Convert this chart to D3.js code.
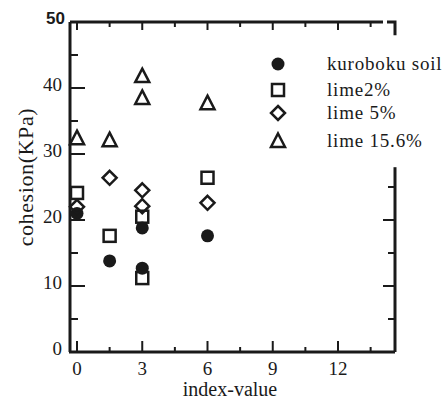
<!DOCTYPE html>
<html lang="en">
<head>
  <meta charset="UTF-8">
  <title>Cohesion vs index-value</title>
  <script src="https://d3js.org/d3.v7.min.js"></script>
  <style>
    body { margin: 0; background: #fff; }
    svg { font-family: "Liberation Serif", "DejaVu Serif", serif; }
    .tick-label { font-size: 19px; fill: #1a1a1a; }
    .axis-title { font-size: 20px; fill: #1a1a1a; }
    .legend text { font-size: 19px; fill: #1a1a1a; letter-spacing: 0.8px; }
  </style>
</head>
<body>
  <svg id="chart"></svg>
  <script>
    // Data
    const xValues = [0, 1.5, 3, 3, 6];
    const kuroboku = [21.0, 13.8, 18.8, 12.7, 17.6];
    const lime2 = [24.1, 17.6, 20.5, 11.2, 26.4];
    const lime5 = [22.0, 26.4, 24.5, 22.1, 22.6];
    const lime156 = [32.4, 32.1, 41.8, 38.5, 37.7];

    const seriesNames = ["kuroboku soil", "lime2%", "lime 5%", "lime 15.6%"];
    const seriesValues = [kuroboku, lime2, lime5, lime156];
    const seriesShapes = ["circle", "square", "diamond", "triangle"];

    const xTicks = [0, 3, 6, 9, 12];
    const yTicks = [0, 10, 20, 30, 40, 50];

    const W = 445, H = 400;
    const svg = d3.select("#chart").attr("width", W).attr("height", H);

    const x = d3.scaleLinear().domain([0, 12]).range([77, 338]);
    const y = d3.scaleLinear().domain([0, 50]).range([352, 22]);

    const plotL = 70, plotR = 395, plotT = y(50), plotB = y(0);
    const ink = "#1a1a1a";

    // Frame
    const frame = svg.append("g").attr("stroke", ink).attr("stroke-width", 3).attr("fill", "none");
    frame.append("line").attr("x1", plotL).attr("x2", plotL).attr("y1", plotT).attr("y2", plotB);
    frame.append("line").attr("x1", plotL - 1).attr("x2", plotR).attr("y1", plotB).attr("y2", plotB);
    frame.append("line").attr("x1", plotL).attr("x2", 383).attr("y1", plotT).attr("y2", plotT);
    frame.append("path").attr("d", `M387,${plotT} H${plotR} V${y(48)}`);
    frame.append("line").attr("x1", plotR).attr("x2", plotR).attr("y1", y(28)).attr("y2", plotB);

    // Ticks
    const ticks = svg.append("g").attr("stroke", ink);
    d3.range(0, 14, 1.5).forEach(v => {
      const major = v % 3 === 0;
      const len = major ? 11 : 5;
      ticks.append("line").attr("x1", x(v)).attr("x2", x(v))
        .attr("y1", plotB).attr("y2", plotB - len).attr("stroke-width", 2);
      ticks.append("line").attr("x1", x(v)).attr("x2", x(v))
        .attr("y1", plotT).attr("y2", plotT + (major ? 8 : 5)).attr("stroke-width", 2);
    });
    d3.range(5, 50, 5).forEach(v => {
      const major = v % 10 === 0;
      ticks.append("line").attr("x1", plotL).attr("x2", plotL + (major ? 15 : 8))
        .attr("y1", y(v)).attr("y2", y(v)).attr("stroke-width", 2);
      if (v <= 25) {
        ticks.append("line").attr("x1", plotR).attr("x2", plotR - (major ? 12 : 7))
          .attr("y1", y(v)).attr("y2", y(v)).attr("stroke-width", 2);
      }
    });

    // Tick labels
    svg.append("g").selectAll("text").data(xTicks).join("text")
      .attr("class", "tick-label")
      .attr("x", d => x(d)).attr("y", 375)
      .attr("text-anchor", "middle")
      .text(d => d);
    svg.append("g").selectAll("text").data(yTicks.filter(d => d < 50)).join("text")
      .attr("class", "tick-label")
      .attr("x", 62).attr("y", d => y(d) + 3)
      .attr("text-anchor", "end")
      .text(d => d);
    // top label is set in a heavier sans face in the original
    svg.append("text")
      .attr("x", 65).attr("y", y(50) + 2)
      .attr("text-anchor", "end")
      .style("font-family", "'Liberation Sans', Arial, sans-serif")
      .style("font-size", "17px").style("font-weight", "bold").attr("fill", ink)
      .text(yTicks[yTicks.length - 1]);

    // Axis titles
    svg.append("text").attr("class", "axis-title")
      .attr("x", 230).attr("y", 396).attr("text-anchor", "middle")
      .text("index-value");
    svg.append("text").attr("class", "axis-title")
      .attr("transform", `translate(33,${y(26.5)}) rotate(-90)`)
      .attr("text-anchor", "middle")
      .style("font-size", "22px").style("letter-spacing", "0.6px")
      .text("cohesion(KPa)");

    // Markers
    function drawShape(g, shape, cx, cy) {
      if (shape === "circle") {
        g.append("circle").attr("cx", cx).attr("cy", cy).attr("r", 6.5)
          .attr("fill", ink);
      } else if (shape === "square") {
        g.append("rect").attr("x", cx - 6).attr("y", cy - 6)
          .attr("width", 12).attr("height", 12)
          .attr("fill", "none").attr("stroke", ink).attr("stroke-width", 2.5);
      } else if (shape === "diamond") {
        g.append("path").attr("d", `M${cx},${cy - 7}L${cx + 7},${cy}L${cx},${cy + 7}L${cx - 7},${cy}Z`)
          .attr("fill", "none").attr("stroke", ink).attr("stroke-width", 2.5);
      } else {
        g.append("path").attr("d", `M${cx},${cy - 7.5}L${cx + 7},${cy + 6}L${cx - 7},${cy + 6}Z`)
          .attr("fill", "none").attr("stroke", ink).attr("stroke-width", 2.5)
          .attr("stroke-linejoin", "miter");
      }
    }

    const marks = svg.append("g");
    seriesValues.forEach((vals, i) => {
      vals.forEach((v, j) => drawShape(marks, seriesShapes[i], x(xValues[j]), y(v)));
    });

    // Legend
    const legend = svg.append("g").attr("class", "legend");
    const legendY = [64, 90, 113, 141];
    seriesNames.forEach((name, i) => {
      drawShape(legend, seriesShapes[i], 278, legendY[i]);
      legend.append("text").attr("x", 327).attr("y", legendY[i] + 6).text(name);
    });
  </script>
</body>
</html>
